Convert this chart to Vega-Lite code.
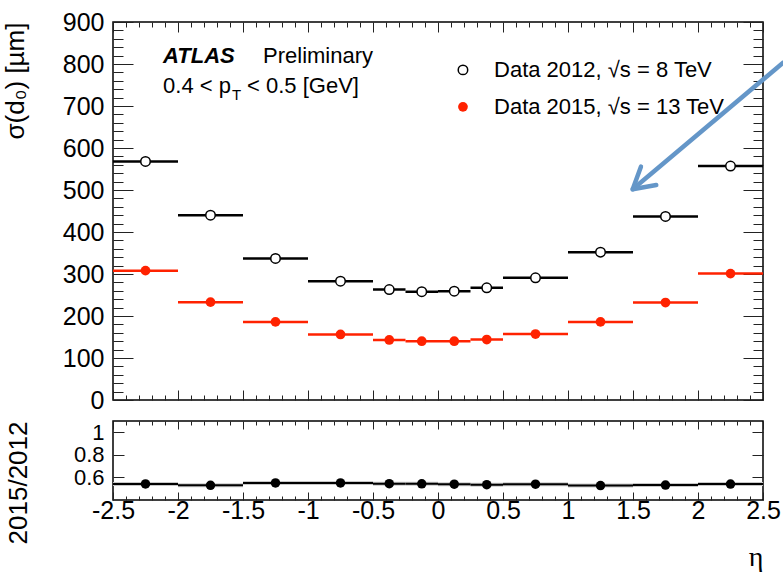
{
  "$schema": "https://vega.github.io/schema/vega-lite/v6.json",
  "background": "white",
  "padding": {"left": 1, "top": 9, "right": 0, "bottom": 0},
  "datasets": {
    "d": [
      {"eta": -2.25, "lo": -2.5, "hi": -2.0, "s12": 568, "s15": 308, "r": 0.542},
      {"eta": -1.75, "lo": -2.0, "hi": -1.5, "s12": 440, "s15": 233, "r": 0.530},
      {"eta": -1.25, "lo": -1.5, "hi": -1.0, "s12": 337, "s15": 186, "r": 0.551},
      {"eta": -0.75, "lo": -1.0, "hi": -0.5, "s12": 283, "s15": 156, "r": 0.551},
      {"eta": -0.375, "lo": -0.5, "hi": -0.25, "s12": 263, "s15": 143, "r": 0.545},
      {"eta": -0.125, "lo": -0.25, "hi": 0.0, "s12": 258, "s15": 140, "r": 0.543},
      {"eta": 0.125, "lo": 0.0, "hi": 0.25, "s12": 259, "s15": 140, "r": 0.540},
      {"eta": 0.375, "lo": 0.25, "hi": 0.5, "s12": 267, "s15": 144, "r": 0.536},
      {"eta": 0.75, "lo": 0.5, "hi": 1.0, "s12": 291, "s15": 157, "r": 0.540},
      {"eta": 1.25, "lo": 1.0, "hi": 1.5, "s12": 352, "s15": 186, "r": 0.528},
      {"eta": 1.75, "lo": 1.5, "hi": 2.0, "s12": 437, "s15": 232, "r": 0.532},
      {"eta": 2.25, "lo": 2.0, "hi": 2.5, "s12": 557, "s15": 301, "r": 0.541}
    ]
  },
  "config": {
    "view": {"stroke": "black", "strokeWidth": 1.5},
    "font": "Liberation Sans",
    "axis": {
      "domain": false, "grid": false,
      "labelFont": "Liberation Sans", "labelFontSize": 25, "labelColor": "black",
      "tickColor": "#222", "tickWidth": 1,
      "titleFont": "Liberation Sans", "titleFontSize": 26, "titleFontWeight": "normal", "titleColor": "black",
      "labelFlush": false, "labelOverlap": false
    }
  },
  "spacing": 5,
  "vconcat": [
    {
      "width": 650, "height": 378,
      "data": {"name": "d"},
      "layer": [
        {
          "mark": {"type": "rule", "color": "black", "strokeWidth": 2.5},
          "encoding": {
            "x": {"field": "lo", "type": "quantitative",
                  "scale": {"domain": [-2.5, 2.5], "nice": false, "zero": false},
                  "axis": {"orient": "bottom", "title": null, "labels": false,
                           "values": [-2.5,-2.4,-2.3,-2.2,-2.1,-2.0,-1.9,-1.8,-1.7,-1.6,-1.5,-1.4,-1.3,-1.2,-1.1,-1.0,-0.9,-0.8,-0.7,-0.6,-0.5,-0.4,-0.3,-0.2,-0.1,0,0.1,0.2,0.3,0.4,0.5,0.6,0.7,0.8,0.9,1.0,1.1,1.2,1.3,1.4,1.5,1.6,1.7,1.8,1.9,2.0,2.1,2.2,2.3,2.4,2.5],
                           "tickSize": {"condition": {"test": "abs(datum.value*2 - round(datum.value*2)) < 0.001", "value": -10}, "value": -5}}},
            "x2": {"field": "hi"},
            "y": {"field": "s12", "type": "quantitative",
                  "scale": {"domain": [0, 900], "nice": false},
                  "axis": {"orient": "left", "title": "σ(d₀) [µm]", "titleAnchor": "end", "titlePadding": 34,
                           "values": [0,20,40,60,80,100,120,140,160,180,200,220,240,260,280,300,320,340,360,380,400,420,440,460,480,500,520,540,560,580,600,620,640,660,680,700,720,740,760,780,800,820,840,860,880,900],
                           "tickSize": {"condition": {"test": "datum.value % 100 === 0", "value": -20}, "value": -10},
                           "labelPadding": 29,
                           "labelExpr": "datum.value % 100 === 0 ? '' + datum.value : ''"}}
          }
        },
        {
          "mark": {"type": "rule", "color": "#ff2200", "strokeWidth": 2.5},
          "encoding": {
            "x": {"field": "lo", "type": "quantitative",
                  "axis": {"orient": "top", "title": null, "labels": false,
                           "values": [-2.5,-2.4,-2.3,-2.2,-2.1,-2.0,-1.9,-1.8,-1.7,-1.6,-1.5,-1.4,-1.3,-1.2,-1.1,-1.0,-0.9,-0.8,-0.7,-0.6,-0.5,-0.4,-0.3,-0.2,-0.1,0,0.1,0.2,0.3,0.4,0.5,0.6,0.7,0.8,0.9,1.0,1.1,1.2,1.3,1.4,1.5,1.6,1.7,1.8,1.9,2.0,2.1,2.2,2.3,2.4,2.5],
                           "tickSize": {"condition": {"test": "abs(datum.value*2 - round(datum.value*2)) < 0.001", "value": -10}, "value": -5}}},
            "x2": {"field": "hi"},
            "y": {"field": "s15", "type": "quantitative",
                  "axis": {"orient": "right", "title": null, "labels": false,
                           "values": [0,20,40,60,80,100,120,140,160,180,200,220,240,260,280,300,320,340,360,380,400,420,440,460,480,500,520,540,560,580,600,620,640,660,680,700,720,740,760,780,800,820,840,860,880,900],
                           "tickSize": {"condition": {"test": "datum.value % 100 === 0", "value": -20}, "value": -10}}}
          }
        },
        {
          "mark": {"type": "point", "shape": "circle", "filled": true, "fill": "white", "stroke": "black", "strokeWidth": 1.5, "size": 90, "opacity": 1},
          "encoding": {
            "x": {"field": "eta", "type": "quantitative", "axis": null},
            "y": {"field": "s12", "type": "quantitative", "axis": null}
          }
        },
        {
          "mark": {"type": "circle", "color": "#ff2200", "size": 95, "opacity": 1},
          "encoding": {
            "x": {"field": "eta", "type": "quantitative", "axis": null},
            "y": {"field": "s15", "type": "quantitative", "axis": null}
          }
        },
        {
          "data": {"values": [{}]},
          "mark": {"type": "text", "text": "ATLAS", "fontSize": 22, "fontWeight": "bold", "fontStyle": "italic", "align": "left", "baseline": "alphabetic", "color": "black"},
          "encoding": {"x": {"datum": -2.115, "type": "quantitative", "axis": null}, "y": {"datum": 802, "type": "quantitative", "axis": null}}
        },
        {
          "data": {"values": [{}]},
          "mark": {"type": "text", "text": "Preliminary", "fontSize": 22, "align": "left", "baseline": "alphabetic", "color": "black"},
          "encoding": {"x": {"datum": -1.346, "type": "quantitative", "axis": null}, "y": {"datum": 802, "type": "quantitative", "axis": null}}
        },
        {
          "data": {"values": [{}]},
          "mark": {"type": "text", "text": "0.4 < p", "fontSize": 22, "align": "left", "baseline": "alphabetic", "color": "black"},
          "encoding": {"x": {"datum": -2.115, "type": "quantitative", "axis": null}, "y": {"datum": 731, "type": "quantitative", "axis": null}}
        },
        {
          "data": {"values": [{}]},
          "mark": {"type": "text", "text": "T", "fontSize": 15, "align": "left", "baseline": "alphabetic", "color": "black"},
          "encoding": {"x": {"datum": -1.585, "type": "quantitative", "axis": null}, "y": {"datum": 714, "type": "quantitative", "axis": null}}
        },
        {
          "data": {"values": [{}]},
          "mark": {"type": "text", "text": "< 0.5 [GeV]", "fontSize": 22, "align": "left", "baseline": "alphabetic", "color": "black"},
          "encoding": {"x": {"datum": -1.469, "type": "quantitative", "axis": null}, "y": {"datum": 731, "type": "quantitative", "axis": null}}
        },
        {
          "data": {"values": [{}]},
          "mark": {"type": "point", "shape": "circle", "filled": true, "fill": "white", "stroke": "black", "strokeWidth": 1.5, "size": 90, "opacity": 1},
          "encoding": {"x": {"datum": 0.192, "type": "quantitative", "axis": null}, "y": {"datum": 786, "type": "quantitative", "axis": null}}
        },
        {
          "data": {"values": [{}]},
          "mark": {"type": "circle", "color": "#ff2200", "size": 95, "opacity": 1},
          "encoding": {"x": {"datum": 0.192, "type": "quantitative", "axis": null}, "y": {"datum": 698, "type": "quantitative", "axis": null}}
        },
        {
          "data": {"values": [{}]},
          "mark": {"type": "text", "text": "Data 2012, √s = 8 TeV", "fontSize": 22, "align": "left", "baseline": "middle", "color": "black"},
          "encoding": {"x": {"datum": 0.431, "type": "quantitative", "axis": null}, "y": {"datum": 786, "type": "quantitative", "axis": null}}
        },
        {
          "data": {"values": [{}]},
          "mark": {"type": "text", "text": "Data 2015, √s = 13 TeV", "fontSize": 22, "align": "left", "baseline": "middle", "color": "black"},
          "encoding": {"x": {"datum": 0.431, "type": "quantitative", "axis": null}, "y": {"datum": 698, "type": "quantitative", "axis": null}}
        },
        {
          "data": {"values": [{}]},
          "mark": {"type": "rule", "color": "#6496c8", "strokeWidth": 4.5, "strokeCap": "butt"},
          "encoding": {
            "x": {"datum": 1.4977, "type": "quantitative", "axis": null}, "y": {"datum": 501.7, "type": "quantitative", "axis": null},
            "x2": {"datum": 2.6615}, "y2": {"datum": 804.8}
          }
        },
        {
          "data": {"values": [{}]},
          "mark": {"type": "rule", "color": "#6496c8", "strokeWidth": 4.5, "strokeCap": "round"},
          "encoding": {
            "x": {"datum": 1.4977, "type": "quantitative", "axis": null}, "y": {"datum": 501.7, "type": "quantitative", "axis": null},
            "x2": {"datum": 1.561}, "y2": {"datum": 555.5}
          }
        },
        {
          "data": {"values": [{}]},
          "mark": {"type": "rule", "color": "#6496c8", "strokeWidth": 4.5, "strokeCap": "round"},
          "encoding": {
            "x": {"datum": 1.4977, "type": "quantitative", "axis": null}, "y": {"datum": 501.7, "type": "quantitative", "axis": null},
            "x2": {"datum": 1.679}, "y2": {"datum": 511.7}
          }
        }
      ],
      "resolve": {"axis": {"x": "independent", "y": "independent"}}
    },
    {
      "width": 650, "height": 79,
      "data": {"name": "d"},
      "layer": [
        {
          "mark": {"type": "rule", "color": "#c8c8c8", "strokeWidth": 4},
          "encoding": {
            "x": {"field": "lo", "type": "quantitative",
                  "scale": {"domain": [-2.5, 2.5], "nice": false, "zero": false},
                  "axis": {"orient": "bottom", "title": "η", "titleAnchor": "end", "titleFont": "Liberation Serif", "titleFontSize": 28, "titlePadding": 16,
                           "values": [-2.5,-2.4,-2.3,-2.2,-2.1,-2.0,-1.9,-1.8,-1.7,-1.6,-1.5,-1.4,-1.3,-1.2,-1.1,-1.0,-0.9,-0.8,-0.7,-0.6,-0.5,-0.4,-0.3,-0.2,-0.1,0,0.1,0.2,0.3,0.4,0.5,0.6,0.7,0.8,0.9,1.0,1.1,1.2,1.3,1.4,1.5,1.6,1.7,1.8,1.9,2.0,2.1,2.2,2.3,2.4,2.5],
                           "tickSize": {"condition": {"test": "abs(datum.value*2 - round(datum.value*2)) < 0.001", "value": -8}, "value": -4},
                           "labelPadding": 6,
                           "labelExpr": "abs(datum.value*2 - round(datum.value*2)) < 0.001 ? '' + datum.value : ''"}},
            "x2": {"field": "hi"},
            "y": {"field": "r", "type": "quantitative",
                  "scale": {"domain": [0.4, 1.1], "nice": false, "zero": false},
                  "axis": {"orient": "left", "title": "2015/2012", "titleAnchor": "end", "titlePadding": 42,
                           "values": [0.6, 0.8, 1], "tickSize": -11, "labelPadding": 20, "labelFontSize": 22,
                           "labelExpr": "'' + datum.value"}}
          }
        },
        {
          "mark": {"type": "rule", "color": "black", "strokeWidth": 2},
          "encoding": {
            "x": {"field": "lo", "type": "quantitative",
                  "axis": {"orient": "top", "title": null, "labels": false,
                           "values": [-2.5,-2.4,-2.3,-2.2,-2.1,-2.0,-1.9,-1.8,-1.7,-1.6,-1.5,-1.4,-1.3,-1.2,-1.1,-1.0,-0.9,-0.8,-0.7,-0.6,-0.5,-0.4,-0.3,-0.2,-0.1,0,0.1,0.2,0.3,0.4,0.5,0.6,0.7,0.8,0.9,1.0,1.1,1.2,1.3,1.4,1.5,1.6,1.7,1.8,1.9,2.0,2.1,2.2,2.3,2.4,2.5],
                           "tickSize": {"condition": {"test": "abs(datum.value*2 - round(datum.value*2)) < 0.001", "value": -8}, "value": -4}}},
            "x2": {"field": "hi"},
            "y": {"field": "r", "type": "quantitative",
                  "axis": {"orient": "right", "title": null, "labels": false, "values": [0.6, 0.8, 1], "tickSize": -11}}
          }
        },
        {
          "mark": {"type": "circle", "color": "black", "size": 90, "opacity": 1},
          "encoding": {
            "x": {"field": "eta", "type": "quantitative", "axis": null},
            "y": {"field": "r", "type": "quantitative", "axis": null}
          }
        }
      ],
      "resolve": {"axis": {"x": "independent", "y": "independent"}}
    }
  ]
}
